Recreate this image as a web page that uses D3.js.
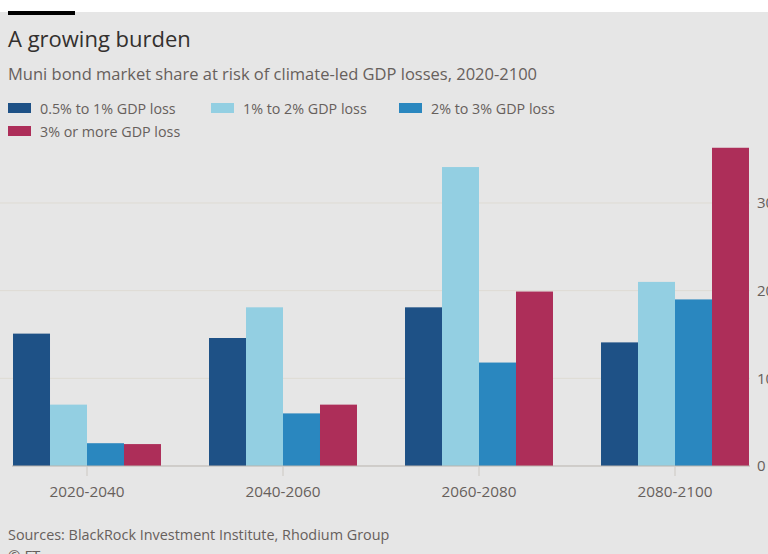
<!DOCTYPE html>
<html>
<head>
<meta charset="utf-8">
<script src="https://cdn.jsdelivr.net/npm/d3@7"></script>
<style>
  body { margin: 0; background: #fff; }
  svg { display: block; font-family: "Open Sans", "Noto Sans", sans-serif; }
</style>
</head>
<body>
<div id="chart"></div>
<script>
// Chart data
var periods = ["2020-2040", "2040-2060", "2060-2080", "2080-2100"]
var seriesNames = ["0.5% to 1% GDP loss", "1% to 2% GDP loss", "2% to 3% GDP loss", "3% or more GDP loss"]
var seriesColors = ["#1e5186", "#93cfe2", "#2a87bf", "#ad2e59"]
var lossLow = [15.1, 14.6, 18.1, 14.1]
var lossMid = [7.0, 18.1, 34.1, 21.0]
var lossHigh = [2.6, 6.0, 11.8, 19.0]
var lossTop = [2.5, 7.0, 19.9, 36.3]
var yTicks = [0, 10, 20, 30]

var width = 768
var height = 554

var svg = d3.select("#chart").append("svg")
  .attr("width", width)
  .attr("height", height)

// grey panel with the FT black bar on top
svg.append("rect")
  .attr("x", 0).attr("y", 12)
  .attr("width", width).attr("height", height - 12)
  .attr("fill", "#e6e6e6")
svg.append("rect")
  .attr("x", 8).attr("y", 11)
  .attr("width", 67).attr("height", 4)
  .attr("fill", "#000")

svg.append("text")
  .attr("x", 8).attr("y", 47)
  .attr("font-size", 22)
  .attr("fill", "#33302e")
  .text("A growing burden")

svg.append("text")
  .attr("x", 8).attr("y", 80)
  .attr("font-size", 16.5)
  .attr("fill", "#66605c")
  .text("Muni bond market share at risk of climate-led GDP losses, 2020-2100")

// legend
var legendPos = [[8, 103], [211, 103], [399, 103], [8, 126]]
var legend = svg.selectAll(".legend")
  .data(seriesNames)
  .enter().append("g")
  .attr("class", "legend")
  .attr("transform", function(d, i) { return "translate(" + legendPos[i][0] + "," + legendPos[i][1] + ")" })
legend.append("rect")
  .attr("width", 23).attr("height", 10)
  .attr("fill", function(d, i) { return seriesColors[i] })
legend.append("text")
  .attr("x", 32).attr("y", 10.5)
  .attr("font-size", 14.3)
  .attr("fill", "#66605c")
  .text(function(d) { return d })

// scales
var x0 = d3.scaleBand()
  .domain(periods)
  .range([-11, 773])
  .paddingInner(0.245)
  .paddingOuter(0.1225)
var x1 = d3.scaleBand()
  .domain(seriesNames)
  .range([0, x0.bandwidth()])
var y = d3.scaleLinear()
  .domain([0, 30])
  .range([466, 203])

// gridlines
svg.selectAll(".grid")
  .data(yTicks.slice(1))
  .enter().append("line")
  .attr("x1", 0).attr("x2", 750)
  .attr("y1", function(d) { return y(d) })
  .attr("y2", function(d) { return y(d) })
  .attr("stroke", "#dedbd3")
  .attr("stroke-width", 1)

// right axis labels (cut off by the frame, as in the source image)
var yAxis = svg.append("g")
  .attr("transform", "translate(750,0)")
  .call(d3.axisRight(y).tickValues(yTicks).tickSize(0).tickPadding(7))
yAxis.select(".domain").remove()
yAxis.selectAll("text")
  .attr("font-size", 15)
  .attr("font-family", "Open Sans, sans-serif")
  .attr("fill", "#66605c")

// bars
var rows = periods.map(function(p, i) {
  return { period: p, values: [lossLow[i], lossMid[i], lossHigh[i], lossTop[i]] }
})
var groups = svg.selectAll(".group")
  .data(rows)
  .enter().append("g")
  .attr("transform", function(d) { return "translate(" + x0(d.period) + ",0)" })
groups.selectAll("rect")
  .data(function(d) { return d.values })
  .enter().append("rect")
  .attr("x", function(d, i) { return x1(seriesNames[i]) })
  .attr("width", x1.bandwidth())
  .attr("y", function(d) { return y(d) })
  .attr("height", function(d) { return y(0) - y(d) })
  .attr("fill", function(d, i) { return seriesColors[i] })

// baseline and category axis
svg.append("line")
  .attr("x1", 12).attr("x2", 750)
  .attr("y1", y(0)).attr("y2", y(0))
  .attr("stroke", "#b8b3ad")
var xAxis = svg.append("g")
  .attr("transform", "translate(0," + y(0) + ")")
  .call(d3.axisBottom(x0).tickSize(10).tickPadding(10))
xAxis.select(".domain").remove()
xAxis.selectAll(".tick line").attr("stroke", "#ccc8c2")
xAxis.selectAll("text")
  .attr("font-size", 15.3)
  .attr("font-family", "Open Sans, sans-serif")
  .attr("fill", "#66605c")

svg.append("text")
  .attr("x", 8).attr("y", 540)
  .attr("font-size", 14.4)
  .attr("fill", "#66605c")
  .text("Sources: BlackRock Investment Institute, Rhodium Group")
svg.append("text")
  .attr("x", 8).attr("y", 561)
  .attr("font-size", 15)
  .attr("fill", "#66605c")
  .text("© FT")
</script>
</body>
</html>
